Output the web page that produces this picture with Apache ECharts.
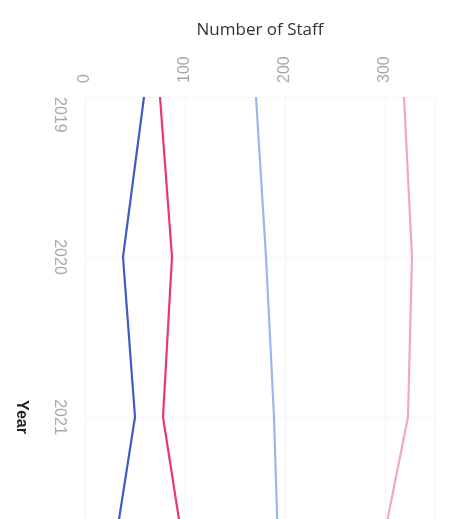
<!DOCTYPE html>
<html>
<head>
<meta charset="utf-8">
<script src="https://cdn.jsdelivr.net/npm/echarts@6/dist/echarts.min.js"></script>
<style>
  html, body { margin: 0; padding: 0; background: #ffffff; }
  #chart { width: 449px; height: 519px; }
</style>
</head>
<body>
<div id="chart"></div>
<script>
// Staff counts per year, four groups
const years = ['2019', '2020', '2021', '2022'];
const groupA = [59, 38, 50, 25];     // dark blue
const groupB = [75, 87, 78, 103];    // magenta
const groupC = [171, 181, 189, 194]; // light blue
const groupD = [319, 327, 323, 291]; // light pink
const staffTicks = [0, 100, 200, 300];

const chart = echarts.init(document.getElementById('chart'), null, { renderer: 'canvas' });

const fontFamily = '"Liberation Sans", "DejaVu Sans", sans-serif';

function line(name, data, color) {
  return {
    name: name,
    type: 'line',
    data: data,
    symbol: 'none',
    smooth: false,
    lineStyle: { color: color, width: 2.2 },
    itemStyle: { color: color }
  };
}

chart.setOption({
  animation: false,
  backgroundColor: '#ffffff',
  grid: {
    left: 85, top: 97, width: 350, height: 480,
    containLabel: false,
    outerBoundsMode: 'none'
  },
  xAxis: {
    type: 'value',
    position: 'top',
    min: staffTicks[0],
    max: 350,
    interval: staffTicks[1] - staffTicks[0],
    name: 'Number of Staff',
    nameLocation: 'middle',
    nameGap: 58,
    nameTextStyle: { color: '#333333', fontSize: 17, fontFamily: '"Open Sans", sans-serif' },
    axisLine: { show: false },
    axisTick: { show: false },
    axisLabel: {
      rotate: -90,
      margin: 14,
      color: '#a8a8a8',
      fontSize: 16,
      fontFamily: fontFamily,
      showMaxLabel: false,
      formatter: function (v) { return staffTicks.indexOf(v) >= 0 ? String(v) : ''; }
    },
    splitLine: { show: true, lineStyle: { color: '#f3f3f3', width: 1 } }
  },
  yAxis: {
    type: 'category',
    data: years,
    inverse: true,
    boundaryGap: false,
    name: 'Year',
    nameLocation: 'middle',
    nameRotate: -90,
    nameGap: 56,
    nameTextStyle: {
      color: '#222222', fontSize: 16, fontWeight: 'bold', fontFamily: fontFamily,
      padding: [0, 0, 0, 160]
    },
    axisLine: { show: false },
    axisTick: { show: false },
    axisLabel: {
      rotate: -90,
      margin: 18,
      color: '#a8a8a8',
      fontSize: 16,
      fontFamily: fontFamily,
      alignMinLabel: 'left'
    },
    splitLine: { show: true, lineStyle: { color: '#f5f5f5', width: 1 } }
  },
  series: [
    line('A', groupA, '#3d5cc4'),
    line('B', groupB, '#e8357d'),
    line('C', groupC, '#9ab6f0'),
    line('D', groupD, '#f2a6cc')
  ]
});
</script>
</body>
</html>
